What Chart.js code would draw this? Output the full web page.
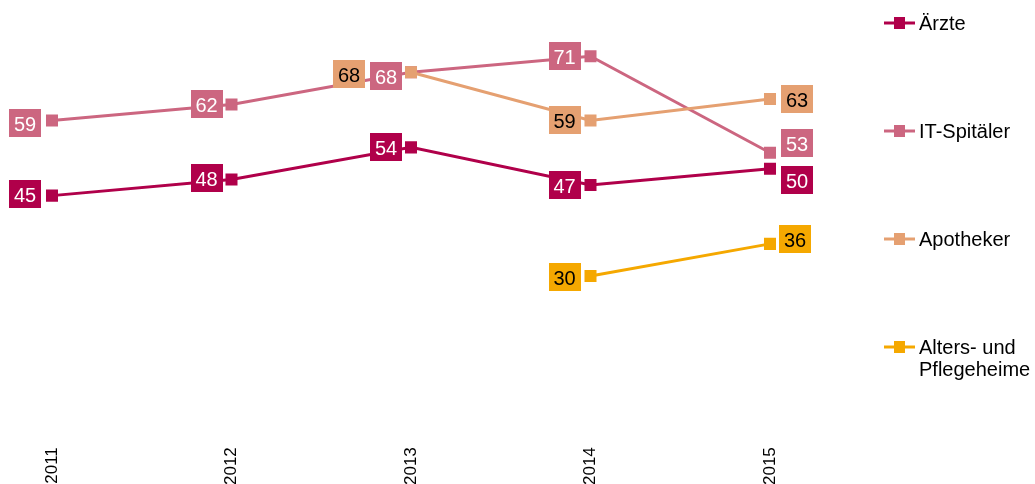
<!DOCTYPE html>
<html>
<head>
<meta charset="utf-8">
<script src="https://cdn.jsdelivr.net/npm/chart.js@4.4.1/dist/chart.umd.min.js"></script>
<style>
  html, body { margin: 0; padding: 0; background: #ffffff; }
  #wrap { width: 1035px; height: 484px; position: relative; }
</style>
</head>
<body>
<div id="wrap"><canvas id="c" width="1035" height="484"></canvas></div>
<script>
// ---- data ----
const categories = ['2011', '2012', '2013', '2014', '2015'];
const seriesNames = ['Ärzte', 'IT-Spitäler', 'Apotheker', 'Alters- und Pflegeheime'];
const aerzte = [45, 48, 54, 47, 50];
const itSpitaeler = [59, 62, 68, 71, 53];
const apotheker = [null, null, 68, 59, 63];
const altersheime = [null, null, null, 30, 36];

// ---- styles ----
const colors = ['#B0004A', '#CC6680', '#E5A071', '#F5A800'];
const labelTextColors = ['#ffffff', '#ffffff', '#000000', '#000000'];
const legendLines = [['Ärzte'], ['IT-Spitäler'], ['Apotheker'], ['Alters- und', 'Pflegeheime']];
const legendY = [23, 131, 239, 347];
// label box offsets (px) relative to each point
const labelOffsets = [
  [[-27, -2], [-25, -2], [-25, 0], [-26, 0], [27, 11]],
  [[-27, 2], [-25, 0], [-25, 4], [-26, 0], [27, -10]],
  [null, null, [-62, 2], [-26, -1], [27, 0]],
  [null, null, null, [-26, 1], [25, -5]]
];
const FONT = '"Liberation Sans", Arial, Helvetica, sans-serif';

const valueLabels = {
  id: 'valueLabels',
  afterDatasetsDraw(chart) {
    const ctx = chart.ctx;
    ctx.save();
    ctx.font = '20px ' + FONT;
    ctx.textAlign = 'center';
    ctx.textBaseline = 'alphabetic';
    chart.data.datasets.forEach((ds, di) => {
      const meta = chart.getDatasetMeta(di);
      meta.data.forEach((pt, i) => {
        const v = ds.data[i];
        if (v === null || v === undefined) return;
        const off = labelOffsets[di][i];
        if (!off) return;
        const cx = pt.x + off[0], cy = pt.y + off[1];
        const w = 32, h = 28;
        ctx.fillStyle = colors[di];
        ctx.fillRect(Math.round(cx - w / 2), Math.round(cy - h / 2), w, h);
        ctx.fillStyle = labelTextColors[di];
        ctx.fillText(String(v), cx, cy + 8);
      });
    });
    ctx.restore();
  }
};

const sideLegend = {
  id: 'sideLegend',
  afterDraw(chart) {
    const ctx = chart.ctx;
    ctx.save();
    ctx.font = '20px ' + FONT;
    ctx.textAlign = 'left';
    ctx.textBaseline = 'alphabetic';
    legendLines.forEach((lines, i) => {
      const y = legendY[i];
      ctx.strokeStyle = colors[i];
      ctx.lineWidth = 3;
      ctx.beginPath();
      ctx.moveTo(884, y);
      ctx.lineTo(915, y);
      ctx.stroke();
      ctx.fillStyle = colors[i];
      ctx.fillRect(894, y - 6, 11, 12);
      ctx.fillStyle = '#000000';
      lines.forEach((t, k) => ctx.fillText(t, 919, y + 7 + k * 22));
    });
    ctx.restore();
  }
};

const seriesData = [aerzte, itSpitaeler, apotheker, altersheime];
const drawOrder = [3, 2, 1, 0];

new Chart(document.getElementById('c'), {
  type: 'line',
  data: {
    labels: categories,
    datasets: seriesData.map((d, i) => ({
      label: seriesNames[i],
      data: d,
      borderColor: colors[i],
      backgroundColor: colors[i],
      borderWidth: 3,
      pointStyle: 'rect',
      pointRadius: 8.5,
      pointHoverRadius: 8.5,
      pointBorderWidth: 0,
      pointBackgroundColor: colors[i],
      tension: 0,
      spanGaps: false,
      order: drawOrder[i]
    }))
  },
  options: {
    responsive: false,
    animation: false,
    events: [],
    layout: { padding: { left: 52, right: 265, top: 0, bottom: -7 } },
    plugins: { legend: { display: false }, tooltip: { enabled: false } },
    scales: {
      x: {
        type: 'category',
        offset: false,
        grid: { display: false, drawTicks: false },
        border: { display: false },
        ticks: {
          color: '#000000',
          font: { family: FONT, size: 17 },
          minRotation: 90,
          maxRotation: 90,
          padding: 6
        }
      },
      y: {
        display: false,
        min: -0.8,
        max: 79.9
      }
    }
  },
  plugins: [valueLabels, sideLegend]
});
</script>
</body>
</html>
